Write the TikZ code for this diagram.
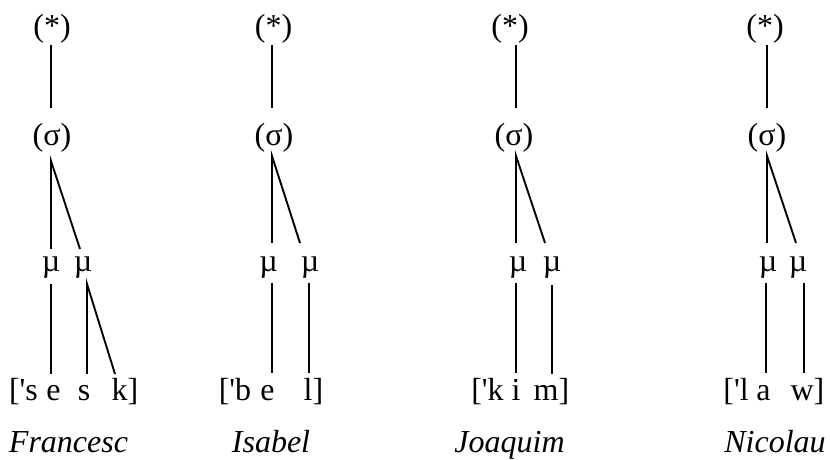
\documentclass[tikz,border=0pt]{standalone}
\usepackage{fontspec}
\setmainfont{Liberation Serif}
\usetikzlibrary{calc}
\begin{document}
\begin{tikzpicture}[x=1pt,y=1pt,
  lbl/.style={inner sep=0pt, anchor=base, font=\fontsize{32}{38}\selectfont},
  nm/.style={inner sep=0pt, anchor=base, font=\fontsize{32}{38}\selectfont\itshape},
  ln/.style={line width=1.9pt}]
\useasboundingbox (0,0) rectangle (830,460);

% ---------- Tree 1: Francesc ----------
\node[lbl] (s1) at (52,423.5) {(*)};
\node[lbl] (g1) at (52,314) {(σ)};
\node[lbl] (m1a) at (51,188) {µ};
\node[lbl] (m1b) at (83,188) {µ};
\node[lbl] (p1a) at (23.5,59) {[\textquotesingle s};
\node[lbl] (p1b) at (53.5,59) {e};
\node[lbl] (p1c) at (84,59) {s};
\node[lbl] (p1d) at (125,59) {k]};
\node[nm] (n1) at (68.5,7) {Francesc};
\draw[ln] ($(s1.base)+(-1,-8.5)$) -- ($(g1.base)+(-1,38)$);
\draw[ln] ($(m1a.base)+(0,23)$) -- ($(g1.base)+(-1,-15)$) -- ($(m1b.base)+(-3,23)$);
\draw[ln] ($(m1a.base)+(0,-12)$) -- ($(p1b.base)+(-2.5,27)$);
\draw[ln] ($(p1c.base)+(3,27)$) -- ($(m1b.base)+(4,-12)$) -- ($(p1d.base)+(-10,27)$);

% ---------- Tree 2: Isabel ----------
\node[lbl] (s2) at (273.5,423.5) {(*)};
\node[lbl] (g2) at (274,314) {(σ)};
\node[lbl] (m2a) at (268.5,188) {µ};
\node[lbl] (m2b) at (310,188) {µ};
\node[lbl] (p2a) at (235,59) {[\textquotesingle b};
\node[lbl] (p2b) at (267.5,59) {e};
\node[lbl] (p2c) at (313.5,59) {l]};
\node[nm] (n2) at (271,7) {Isabel};
\draw[ln] ($(s2.base)+(-1.5,-8.5)$) -- ($(g2.base)+(-2,38)$);
\draw[ln] ($(m2a.base)+(3.5,29)$) -- ($(g2.base)+(-2,-10)$) -- ($(m2b.base)+(-10,29)$);
\draw[ln] ($(m2a.base)+(3.5,-11)$) -- ($(p2b.base)+(4.5,28)$);
\draw[ln] ($(m2b.base)+(-1,-11)$) -- ($(p2c.base)+(-4.5,28)$);

% ---------- Tree 3: Joaquim ----------
\node[lbl] (s3) at (510,423.5) {(*)};
\node[lbl] (g3) at (514,314) {(σ)};
\node[lbl] (m3a) at (518,188) {µ};
\node[lbl] (m3b) at (552,188) {µ};
\node[lbl] (p3a) at (487.5,59) {[\textquotesingle k};
\node[lbl] (p3b) at (516,59) {i};
\node[lbl] (p3c) at (551.5,59) {m]};
\node[nm] (n3) at (509.5,7) {Joaquim};
\draw[ln] ($(s3.base)+(6,-8.5)$) -- ($(g3.base)+(2,38)$);
\draw[ln] ($(m3a.base)+(-2,29)$) -- ($(g3.base)+(2,-10)$) -- ($(m3b.base)+(-7,29)$);
\draw[ln] ($(m3a.base)+(-2,-11)$) -- ($(p3b.base)+(0,28)$);
\draw[ln] ($(m3b.base)+(0,-13)$) -- ($(p3c.base)+(0.5,27)$);

% ---------- Tree 4: Nicolau ----------
\node[lbl] (s4) at (765,423.5) {(*)};
\node[lbl] (g4) at (767,314) {(σ)};
\node[lbl] (m4a) at (768,188) {µ};
\node[lbl] (m4b) at (798,188) {µ};
\node[lbl] (p4a) at (736,59) {[\textquotesingle l};
\node[lbl] (p4b) at (763.5,59) {a};
\node[lbl] (p4c) at (807.5,59) {w]};
\node[nm] (n4) at (775,7) {Nicolau};
\draw[ln] ($(s4.base)+(2,-8.5)$) -- ($(g4.base)+(0,38)$);
\draw[ln] ($(m4a.base)+(-1,29)$) -- ($(g4.base)+(0,-10)$) -- ($(m4b.base)+(-2,29)$);
\draw[ln] ($(m4a.base)+(-2,-11)$) -- ($(p4b.base)+(2.5,28)$);
\draw[ln] ($(m4b.base)+(6,-11)$) -- ($(p4c.base)+(-3.5,28)$);
\end{tikzpicture}
\end{document}
